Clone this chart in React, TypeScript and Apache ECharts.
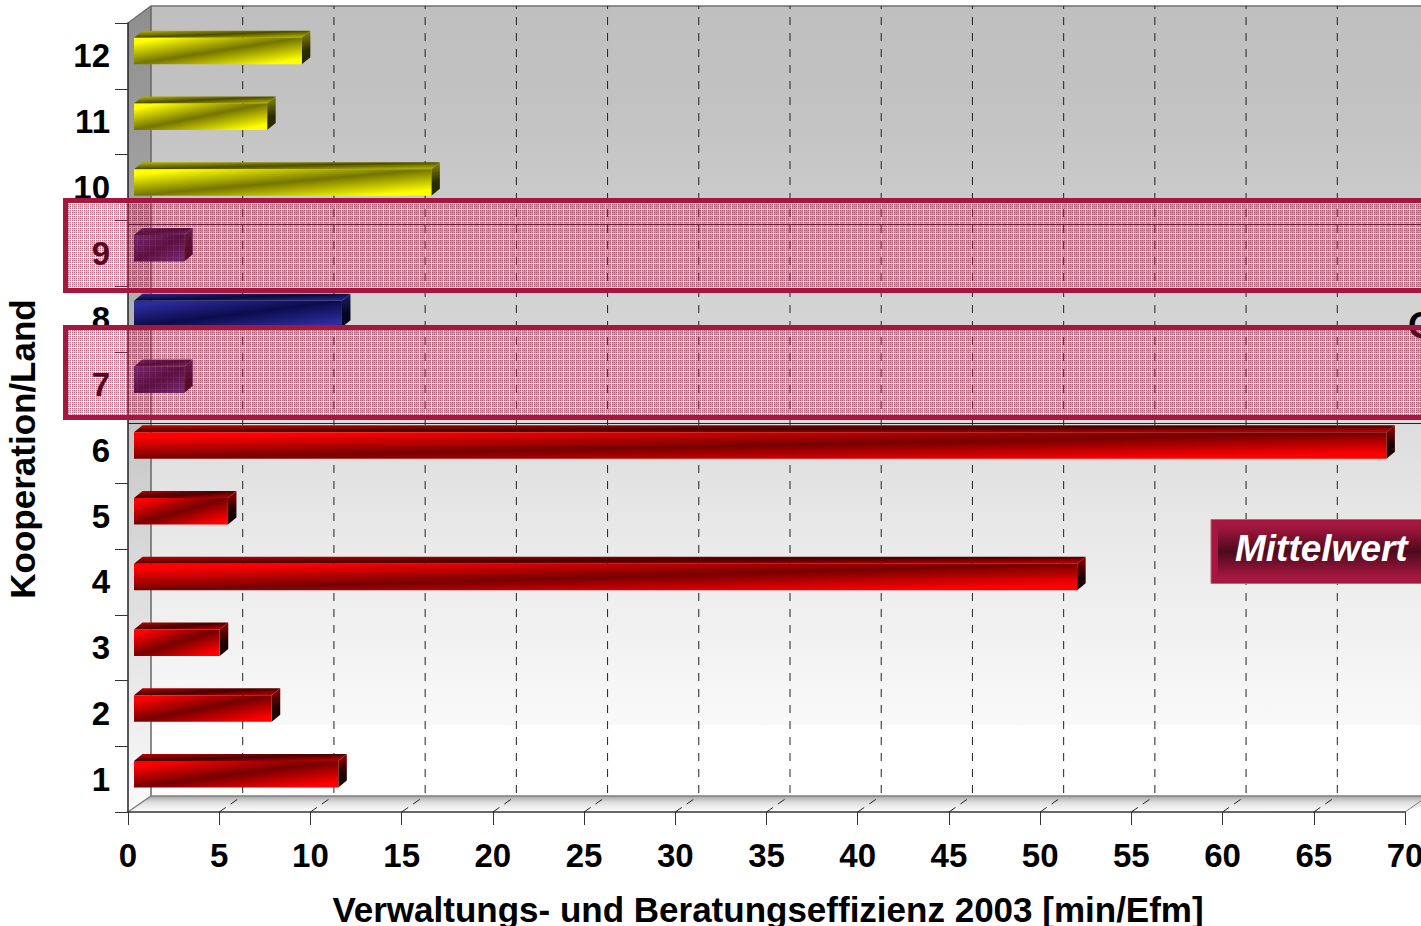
import React, { useEffect, useRef } from "react";
import * as echarts from "echarts";

const categories = ["1", "2", "3", "4", "5", "6", "7", "8", "9", "10", "11", "12"];
const efficiency = [11.2, 7.55, 4.7, 51.7, 5.15, 68.65, 2.75, 11.4, 2.75, 16.3, 7.3, 9.2];
const barPalette = ["red", "red", "red", "red", "red", "red", "blue", "blue", "blue", "yellow", "yellow", "yellow"];
const xTicks = [5, 10, 15, 20, 25, 30, 35, 40, 45, 50, 55, 60, 65];
const xTitle = "Verwaltungs- und Beratungseffizienz 2003 [min/Efm]";
const yTitle = "Kooperation/Land";
const legendLabel = "Mittelwert";

const FONT = '"Liberation Sans", Arial, sans-serif';
const WIDTH = 1421;
const HEIGHT = 926;
const GRID = { left: 128, top: 23, width: 1277, height: 789 };
const DEPTH_X = 23;
const DEPTH_Y = 16;
const WALL_TOP = 6;
const FLOOR_BACK = GRID.top + GRID.height - DEPTH_Y;
const CRIMSON = "#a5173e";

const palettes: Record<string, any> = {
  red: { front: ["#ff0000", "#760000"], top: ["#b00000", "#450000"], side: ["#a00000", "#1c0000"] },
  blue: { front: ["#2c2c9e", "#0c0c4c"], top: ["#24247e", "#0a0a3a"], side: ["#20206a", "#05051f"] },
  yellow: { front: ["#ffff00", "#747400"], top: ["#a8a800", "#4c4c00"], side: ["#8f8f00", "#2a2a00"] },
};

function skewedGradient(x: number, y: number, w: number, h: number, c: string[]) {
  const l2 = w * w + h * h;
  const k = (2 * w * h) / l2;
  return new echarts.graphic.LinearGradient(
    x, y, x + h * k, y + w * k,
    [
      { offset: 0, color: c[0] },
      { offset: 0.1, color: c[0] },
      { offset: 0.5, color: c[1] },
      { offset: 0.9, color: c[0] },
      { offset: 1, color: c[0] },
    ],
    true,
  );
}

function renderBar(params: any, api: any) {
  const value = api.value(0);
  const cat = api.value(1);
  const pal = palettes[barPalette[params.dataIndex]];
  const base = api.coord([0, cat]);
  const end = api.coord([value, cat]);
  const h = 26.5;
  const dx = 8.5;
  const dy = 7;
  const x0 = base[0] + 6;
  const x1 = end[0] + 6;
  const y0 = base[1] - 5 - h / 2;
  const y1 = y0 + h;
  const w = x1 - x0;
  return {
    type: "group",
    children: [
      {
        type: "polygon",
        shape: { points: [[x0, y0], [x0 + dx, y0 - dy], [x1 + dx, y0 - dy], [x1, y0]] },
        style: { fill: skewedGradient(x0, y0 - dy, w + dx, dy, pal.top), stroke: null },
      },
      {
        type: "polygon",
        shape: { points: [[x1, y0], [x1 + dx, y0 - dy], [x1 + dx, y1 - dy], [x1, y1]] },
        style: {
          fill: new echarts.graphic.LinearGradient(x1, y0 - dy, x1 + dx, y1, [
            { offset: 0, color: pal.side[0] },
            { offset: 0.6, color: pal.side[1] },
            { offset: 1, color: pal.side[1] },
          ], true),
          stroke: null,
        },
      },
      {
        type: "rect",
        shape: { x: x0, y: y0, width: w, height: h },
        style: { fill: skewedGradient(x0, y0, w, h, pal.front), stroke: null },
      },
    ],
  };
}

function renderGridLine(params: any, api: any) {
  const p = api.coord([api.value(0), 0]);
  const x = p[0];
  const bottom = GRID.top + GRID.height;
  const lineStyle = { stroke: "#222", lineWidth: 1, lineDash: [8, 8], fill: null };
  return {
    type: "group",
    children: [
      {
        type: "line",
        shape: { x1: x + DEPTH_X + 0.5, y1: FLOOR_BACK - 3, x2: x + DEPTH_X + 0.5, y2: WALL_TOP },
        style: lineStyle,
      },
      {
        type: "line",
        shape: { x1: x, y1: bottom, x2: x + DEPTH_X, y2: FLOOR_BACK },
        style: { ...lineStyle, lineDash: [8, 6] },
      },
    ],
  };
}

function makeHatch(): string {
  const size = 6;
  const c = document.createElement("canvas");
  c.width = size;
  c.height = size;
  const ctx = c.getContext("2d")!;
  for (let y = 0; y < size; y++) {
    for (let x = 0; x < size; x++) {
      const edge = x === 5 || y === 5;
      const dot = x % 2 === 0 && y % 2 === 0;
      ctx.fillStyle = edge
        ? "rgba(255,255,255,0.14)"
        : dot
        ? "rgba(145,20,60,0.62)"
        : "rgba(150,60,90,0.34)";
      ctx.fillRect(x, y, 1, 1);
    }
  }
  return c.toDataURL();
}

export default function App() {
  const ref = useRef<HTMLDivElement>(null);
  useEffect(() => {
    const chart = echarts.init(ref.current!, undefined, { renderer: "svg" });
    const hatch = { image: makeHatch(), repeat: "repeat", imageWidth: 6, imageHeight: 6 };
    const bottom = GRID.top + GRID.height;
    const overlayBox = (y: number, h: number) => ({
      type: "rect",
      z: 100,
      silent: true,
      shape: { x: 65.5, y, width: 1400, height: h },
      style: { fill: hatch, stroke: CRIMSON, lineWidth: 5 },
    });
    const wallFill = new echarts.graphic.LinearGradient(0, 0, 0, 1, [
      { offset: 0, color: "#bfbfbf" },
      { offset: 0.12, color: "#c2c2c2" },
      { offset: 0.52, color: "#dcdcdc" },
      { offset: 0.7, color: "#ebebeb" },
      { offset: 0.91, color: "#f9f9f9" },
      { offset: 0.91, color: "#ffffff" },
      { offset: 1, color: "#ffffff" },
    ]);
    chart.setOption({
      animation: false,
      backgroundColor: "#ffffff",
      grid: { ...GRID, containLabel: false, outerBoundsMode: "none" },
      xAxis: {
        type: "value",
        min: 0,
        max: 70,
        interval: 5,
        splitLine: { show: false },
        axisLine: { show: true, lineStyle: { color: "#333", width: 1.5 } },
        axisTick: { show: true, length: 13, lineStyle: { color: "#333", width: 1 } },
        axisLabel: {
          margin: 27,
          color: "#000",
          fontFamily: FONT,
          fontWeight: "bold",
          fontSize: 33,
        },
        name: xTitle,
        nameLocation: "middle",
        nameGap: 80,
        nameTextStyle: { color: "#000", fontFamily: FONT, fontWeight: "bold", fontSize: 35, padding: [0, 0, 0, 3] },
      },
      yAxis: {
        type: "category",
        data: categories,
        splitLine: { show: false },
        axisLine: { show: true, onZero: false, lineStyle: { color: "#222", width: 1.5 } },
        axisTick: { show: true, length: 13, lineStyle: { color: "#333", width: 1 } },
        axisLabel: {
          margin: 18,
          color: "#000",
          fontFamily: FONT,
          fontWeight: "bold",
          fontSize: 33,
        },
        name: yTitle,
        nameLocation: "middle",
        nameGap: 88,
        nameRotate: 90,
        nameTextStyle: { color: "#000", fontFamily: FONT, fontWeight: "bold", fontSize: 35, padding: [0, 63, 0, 0] },
      },
      series: [
        {
          type: "custom",
          name: "grid",
          z: 1,
          silent: true,
          clip: false,
          coordinateSystem: "cartesian2d",
          data: xTicks.map((v) => [v, categories[0]]),
          encode: { x: 0, y: 1 },
          renderItem: renderGridLine,
        },
        {
          type: "custom",
          name: "Effizienz",
          z: 3,
          clip: false,
          coordinateSystem: "cartesian2d",
          data: efficiency.map((v, i) => [v, categories[i]]),
          encode: { x: 0, y: 1 },
          renderItem: renderBar,
        },
      ],
      graphic: {
        elements: [
          {
            type: "rect",
            z: -10,
            silent: true,
            shape: { x: GRID.left + DEPTH_X, y: WALL_TOP, width: WIDTH, height: FLOOR_BACK - WALL_TOP },
            style: { fill: wallFill, stroke: null },
          },
          {
            type: "polygon",
            z: -9,
            silent: true,
            shape: {
              points: [
                [GRID.left, GRID.top],
                [GRID.left + DEPTH_X, WALL_TOP],
                [GRID.left + DEPTH_X, FLOOR_BACK],
                [GRID.left, bottom],
              ],
            },
            style: {
              fill: new echarts.graphic.LinearGradient(0, 0, 0, 1, [
                { offset: 0, color: "#8e8e8e" },
                { offset: 0.3, color: "#a8a8a8" },
                { offset: 0.6, color: "#d0d0d0" },
                { offset: 1, color: "#fafafa" },
              ]),
              stroke: null,
            },
          },
          {
            type: "polygon",
            z: -9,
            silent: true,
            shape: {
              points: [
                [GRID.left, bottom],
                [GRID.left + DEPTH_X, FLOOR_BACK],
                [WIDTH + 30, FLOOR_BACK],
                [GRID.left + GRID.width, bottom],
              ],
            },
            style: {
              fill: new echarts.graphic.LinearGradient(0, 0, 0, 1, [
                { offset: 0, color: "#a6a6a6" },
                { offset: 0.4, color: "#dedede" },
                { offset: 1, color: "#ffffff" },
              ]),
              stroke: null,
            },
          },
          {
            type: "polyline",
            z: -8,
            silent: true,
            shape: {
              points: [
                [GRID.left, GRID.top],
                [GRID.left + DEPTH_X, WALL_TOP],
                [WIDTH + 10, WALL_TOP],
              ],
            },
            style: { stroke: "#6f6f6f", lineWidth: 1.5, fill: null },
          },
          {
            type: "line",
            z: -8,
            silent: true,
            shape: { x1: GRID.left + DEPTH_X, y1: WALL_TOP, x2: GRID.left + DEPTH_X, y2: FLOOR_BACK },
            style: { stroke: "#666", lineWidth: 1.5 },
          },
          {
            type: "polyline",
            z: -8,
            silent: true,
            shape: {
              points: [
                [GRID.left, bottom],
                [GRID.left + DEPTH_X, FLOOR_BACK],
                [WIDTH + 10, FLOOR_BACK],
              ],
            },
            style: { stroke: "#808080", lineWidth: 1.5, fill: null },
          },
          {
            type: "line",
            z: -8,
            silent: true,
            shape: { x1: GRID.left + GRID.width, y1: bottom, x2: GRID.left + GRID.width + DEPTH_X, y2: FLOOR_BACK },
            style: { stroke: "#808080", lineWidth: 1 },
          },
          {
            type: "line",
            z: 50,
            silent: true,
            shape: { x1: GRID.left, y1: 224.5, x2: WIDTH, y2: 224.5 },
            style: { stroke: "#222", lineWidth: 1 },
          },
          {
            type: "line",
            z: 50,
            silent: true,
            shape: { x1: GRID.left, y1: 423.5, x2: WIDTH, y2: 423.5 },
            style: { stroke: "#222", lineWidth: 1 },
          },
          {
            type: "text",
            z: 60,
            silent: true,
            x: 1408,
            y: 325,
            style: {
              text: "O",
              fill: "#000",
              font: `bold 36px ${FONT}`,
              textAlign: "left",
              textVerticalAlign: "middle",
            },
          },
          overlayBox(200.5, 90),
          overlayBox(327.5, 90),
          {
            type: "rect",
            z: 110,
            silent: true,
            shape: { x: 1211, y: 519.5, width: 240, height: 64 },
            style: { fill: CRIMSON, stroke: "#c4607e", lineWidth: 1 },
          },
          {
            type: "rect",
            z: 111,
            silent: true,
            shape: { x: 1218, y: 526, width: 240, height: 51 },
            style: {
              fill: new echarts.graphic.LinearGradient(0, 0, 0, 1, [
                { offset: 0, color: CRIMSON },
                { offset: 0.5, color: "#4d0a1e" },
                { offset: 1, color: CRIMSON },
              ]),
              stroke: null,
            },
          },
          {
            type: "text",
            z: 112,
            silent: true,
            x: 1235,
            y: 548,
            style: {
              text: legendLabel,
              fill: "#ffffff",
              font: `italic bold 37px ${FONT}`,
              textAlign: "left",
              textVerticalAlign: "middle",
            },
          },
        ],
      },
    });
    return () => chart.dispose();
  }, []);
  return (
    <div
      ref={ref}
      style={{ position: "absolute", left: 0, top: 0, width: WIDTH, height: HEIGHT, overflow: "hidden" }}
    />
  );
}
